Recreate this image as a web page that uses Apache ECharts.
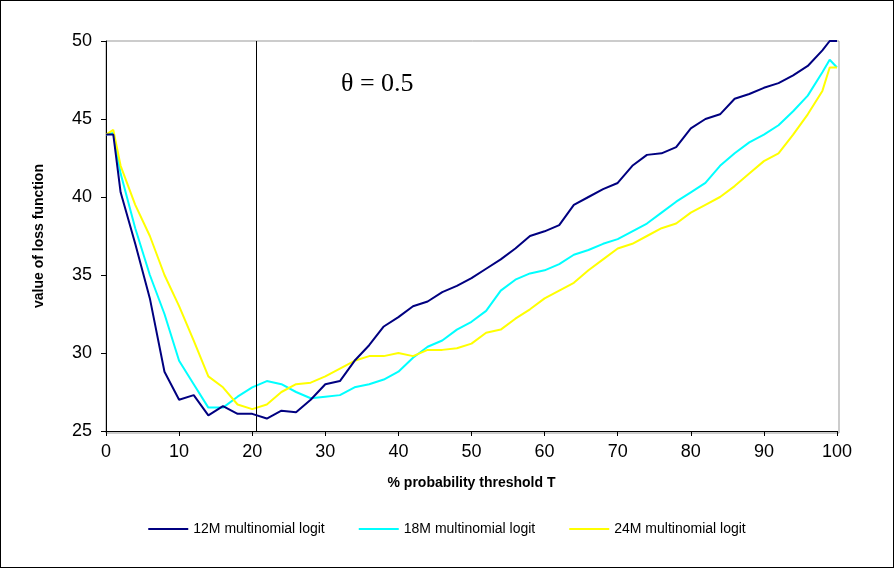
<!DOCTYPE html>
<html>
<head>
<meta charset="utf-8">
<script src="https://cdn.jsdelivr.net/npm/echarts@6/dist/echarts.min.js"></script>
<style>
html, body { margin: 0; padding: 0; background: #fff; }
#main { width: 892px; height: 566px; border: 1px solid #000; }
</style>
</head>
<body>
<div id="main"></div>
<script>
var xs = [0, 1, 2, 4, 6, 8, 10, 12, 14, 16, 18, 20, 22, 24, 26, 28, 30, 32, 34, 36, 38, 40, 42, 44, 46, 48, 50,
	52, 54, 56, 58, 60, 62, 64, 66, 68, 70, 72, 74, 76, 78, 80, 82, 84, 86, 88, 90, 92, 94, 96, 98, 99, 100];
var logit12 = [44, 44, 40.3, 37, 33.5, 28.8, 27, 27.3, 26, 26.6, 26.1, 26.1, 25.8, 26.3, 26.2, 27, 28, 28.2, 29.5, 30.5, 31.7, 32.3, 33, 33.3, 33.9, 34.3, 34.8,
	35.4, 36, 36.7, 37.5, 37.8, 38.2, 39.5, 40, 40.5, 40.9, 42, 42.7, 42.8, 43.2, 44.4, 45, 45.3, 46.3, 46.6, 47, 47.3, 47.8, 48.4, 49.4, 50, 50];
var logit18 = [44, 44.1, 41.5, 38, 35, 32.5, 29.5, 28, 26.5, 26.5, 27.2, 27.8, 28.2, 28, 27.5, 27.1, 27.2, 27.3, 27.8, 28, 28.3, 28.8, 29.7, 30.4, 30.8, 31.5, 32,
	32.7, 34, 34.7, 35.1, 35.3, 35.7, 36.3, 36.6, 37, 37.3, 37.8, 38.3, 39, 39.7, 40.3, 40.9, 42, 42.8, 43.5, 44, 44.6, 45.5, 46.5, 48, 48.8, 48.3];
var logit24 = [44, 44.3, 42, 39.5, 37.5, 35, 33, 30.8, 28.5, 27.8, 26.7, 26.4, 26.7, 27.5, 28, 28.1, 28.5, 29, 29.5, 29.8, 29.8, 30, 29.8, 30.2, 30.2, 30.3, 30.6,
	31.3, 31.5, 32.2, 32.8, 33.5, 34, 34.5, 35.3, 36, 36.7, 37, 37.5, 38, 38.3, 39, 39.5, 40, 40.7, 41.5, 42.3, 42.8, 44, 45.3, 46.8, 48.3, 48.3];
var names = ['12M multinomial logit', '18M multinomial logit', '24M multinomial logit'];
var colors = ['#000080', '#00FFFF', '#FFFF00'];
var thetaT = 20.5;

function pairs(ys) {
	return xs.map(function (x, i) { return [x, ys[i]]; });
}

var myChart = echarts.init(document.getElementById('main'));

var series = [logit12, logit18, logit24].map(function (ys, i) {
	return {
		name: names[i],
		type: 'line',
		symbol: 'none',
		lineStyle: { width: 2, color: colors[i] },
		itemStyle: { color: colors[i] },
		data: pairs(ys)
	};
});
series[0].z = 5;
series[0].markLine = {
	silent: true,
	symbol: 'none',
	label: { show: false },
	lineStyle: { color: '#000', width: 1, type: 'solid' },
	data: [{ xAxis: thetaT }]
};

option = {
	backgroundColor: '#fff',
	animation: false,
	grid: { left: 105, right: 56, top: 40, bottom: 136 },
	xAxis: {
		type: 'value',
		min: 0, max: 100, interval: 10,
		name: '% probability threshold T',
		nameLocation: 'middle',
		nameGap: 45,
		nameTextStyle: { fontFamily: 'Liberation Sans', fontWeight: 'bold', fontSize: 14, color: '#000' },
		axisLine: { lineStyle: { color: '#000' } },
		axisTick: { lineStyle: { color: '#000' } },
		axisLabel: { fontFamily: 'Liberation Sans', fontSize: 18, color: '#000', margin: 12 },
		splitLine: { show: false }
	},
	yAxis: {
		type: 'value',
		min: 25, max: 50, interval: 5,
		name: 'value of loss function',
		nameLocation: 'middle',
		nameGap: 60,
		nameTextStyle: { fontFamily: 'Liberation Sans', fontWeight: 'bold', fontSize: 14, color: '#000' },
		axisLine: { show: true, lineStyle: { color: '#000' } },
		axisTick: { show: true, lineStyle: { color: '#000' } },
		axisLabel: { fontFamily: 'Liberation Sans', fontSize: 18, color: '#000', margin: 14 },
		splitLine: { show: false }
	},
	legend: {
		bottom: 26,
		left: 'center',
		itemWidth: 40,
		itemHeight: 2,
		itemGap: 34,
		icon: 'rect',
		textStyle: { fontFamily: 'Liberation Sans', fontSize: 14, color: '#000' },
		data: names
	},
	graphic: [{
		type: 'rect',
		shape: { x: 105, y: 40, width: 733, height: 392 },
		style: { fill: 'none', stroke: '#999', lineWidth: 1 },
		silent: true
	}, {
		type: 'text',
		left: 340, top: 70,
		style: { text: 'θ = 0.5', font: '26px "Liberation Serif"', fill: '#000' }
	}],
	series: series
};

myChart.setOption(option);
</script>
</body>
</html>
